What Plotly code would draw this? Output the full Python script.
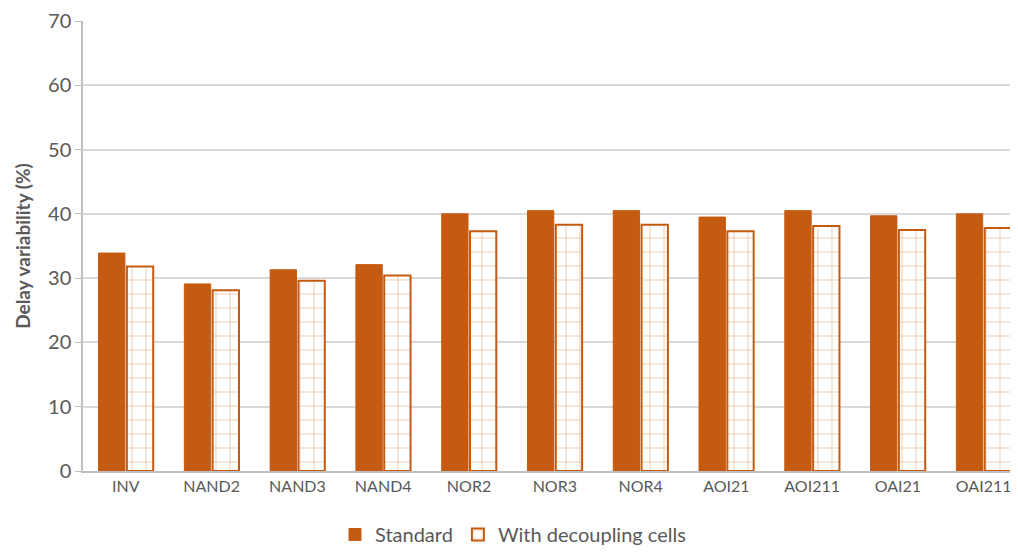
import plotly.graph_objects as go

cells = ["INV", "NAND2", "NAND3", "NAND4", "NOR2", "NOR3", "NOR4",
         "AOI21", "AOI211", "OAI21", "OAI211"]
standard = [33.9, 29.1, 31.3, 32.1, 40.0, 40.5, 40.5, 39.5, 40.5, 39.7, 40.0]
decoupled = [31.8, 28.1, 29.6, 30.4, 37.3, 38.3, 38.3, 37.3, 38.1, 37.5, 37.8]
y_ticks = [0, 10, 20, 30, 40, 50, 60, 70]

orange = "#C55A11"
grey_text = "#595959"
font_family = "Lato, Open Sans, sans-serif"

fig = go.Figure()
fig.add_trace(go.Bar(
    x=cells, y=standard, name="Standard",
    marker=dict(color=orange, line=dict(color=orange, width=1)),
))
fig.add_trace(go.Bar(
    x=cells, y=decoupled, name="With decoupling cells",
    marker=dict(
        color="white",
        line=dict(color=orange, width=2),
        pattern=dict(shape="+", fgcolor="#D0783C", bgcolor="white",
                     size=14, solidity=0.1, fillmode="overlay"),
    ),
))

# the page body has an 8px margin, so the figure is a bit smaller
fig.update_layout(
    width=1010, height=546,
    margin=dict(l=75, r=0, t=9, b=83),
    paper_bgcolor="white", plot_bgcolor="white",
    barmode="group", bargap=0.34, bargroupgap=0.07,
    font=dict(family=font_family, color=grey_text, size=16),
    legend=dict(orientation="h", xref="container", x=0.5, xanchor="center",
                yref="container", y=-0.012, yanchor="bottom",
                font=dict(size=20, color=grey_text), traceorder="normal",
                itemwidth=30),
    showlegend=True,
)
fig.update_xaxes(
    range=[-0.5, 10.4], showgrid=False, showline=True,
    linecolor="#BFBFBF", linewidth=1.5, ticks="",
    tickfont=dict(size=16, color=grey_text),
)
fig.update_yaxes(
    range=[0, 70], tickvals=y_ticks, showgrid=True,
    gridcolor="#D9D9D9", gridwidth=1.5, zeroline=False,
    showline=True, linecolor="#BFBFBF", linewidth=1.5,
    ticks="outside", ticklen=6, tickcolor="#BFBFBF",
    tickfont=dict(size=20, color=grey_text), ticklabeloverflow="allow",
    title=dict(text="<b>Delay variability (%)</b>",
               font=dict(size=19, color=grey_text), standoff=12),
)

fig.write_html("out.html")
